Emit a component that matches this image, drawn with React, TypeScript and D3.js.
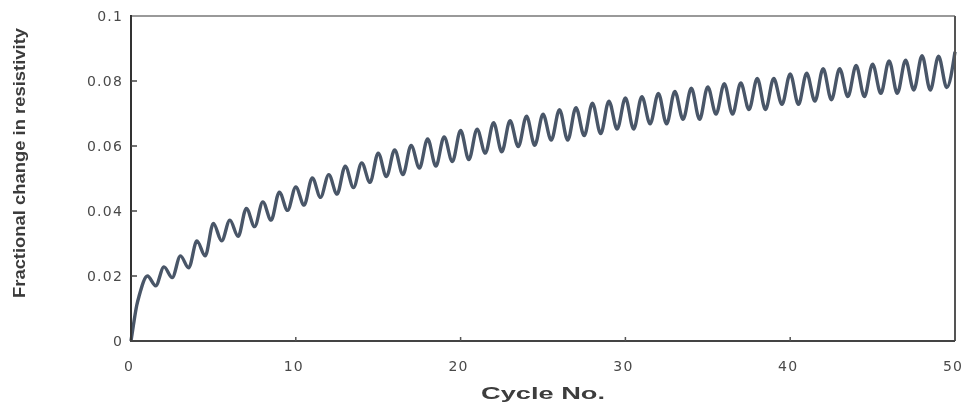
import React, { useRef, useEffect } from 'react';
import * as d3 from 'd3';

// values: peak of each cycle (at cycle n) and the dip before it (at n - 0.5)
const startCycles = [0, 0.15, 0.35];
const startValues = [0, 0.005, 0.011];
const peakValues = [
  0.0200, 0.0228, 0.0262, 0.0308, 0.0362, 0.0372, 0.0408, 0.0428, 0.0458, 0.0474,
  0.0502, 0.0512, 0.0538, 0.0548, 0.0578, 0.0588, 0.0602, 0.0622, 0.0628, 0.0648,
  0.0652, 0.0672, 0.0678, 0.0692, 0.0698, 0.0712, 0.0718, 0.0732, 0.0738, 0.0748,
  0.0752, 0.0762, 0.0768, 0.0778, 0.0782, 0.0792, 0.0794, 0.0808, 0.0808, 0.0822,
  0.0824, 0.0838, 0.0838, 0.0848, 0.0852, 0.0862, 0.0864, 0.0878, 0.0876, 0.0890,
];
const troughValues = [
  0.0140, 0.0170, 0.0195, 0.0225, 0.0262, 0.0308, 0.0322, 0.0352, 0.0372, 0.0402,
  0.0418, 0.0442, 0.0452, 0.0472, 0.0488, 0.0506, 0.0512, 0.0532, 0.0538, 0.0552,
  0.0558, 0.0578, 0.0582, 0.0598, 0.0602, 0.0618, 0.0618, 0.0632, 0.0638, 0.0652,
  0.0652, 0.0668, 0.0668, 0.0682, 0.0682, 0.0698, 0.0698, 0.0712, 0.0712, 0.0728,
  0.0728, 0.0738, 0.0742, 0.0752, 0.0752, 0.0762, 0.0762, 0.0772, 0.0772, 0.0780,
];

const xTicks = [0, 10, 20, 30, 40, 50];
const yTicks = [0, 0.02, 0.04, 0.06, 0.08, 0.1];
const yTickLabels = ['0', '0.02', '0.04', '0.06', '0.08', '0.1'];

const W = 971;
const H = 409;

const App = () => {
  const svgRef = useRef<SVGSVGElement | null>(null);

  useEffect(() => {
    const svg = d3.select(svgRef.current);
    svg.selectAll('*').remove();

    const x = d3.scaleLinear().domain([0, 50]).range([131, 955]);
    const y = d3.scaleLinear().domain([0, 0.1]).range([341, 16]);

    const defs = svg.append('defs');
    defs.append('filter').attr('id', 'scan')
      .append('feGaussianBlur').attr('stdDeviation', 0.6);

    const pts: [number, number][] = startCycles.map((c, i) => [c, startValues[i]]);
    peakValues.forEach((p, i) => {
      pts.push([i + 0.5, troughValues[i]]);
      pts.push([i + 1, p]);
    });

    const g = svg.append('g');

    const line = d3.line<[number, number]>()
      .x(d => x(d[0])).y(d => y(d[1]))
      .curve(d3.curveMonotoneX);

    g.append('path').datum(pts)
      .attr('fill', 'none').attr('stroke', '#4a5668').attr('stroke-width', 3.4)
      .attr('stroke-linejoin', 'round').attr('filter', 'url(#scan)')
      .attr('d', line);

    // frame
    g.append('line').attr('x1', x(0)).attr('x2', x(50)).attr('y1', y(0.1)).attr('y2', y(0.1))
      .attr('stroke', '#777').attr('stroke-width', 1.5);
    g.append('line').attr('x1', x(50)).attr('x2', x(50)).attr('y1', y(0.1)).attr('y2', y(0))
      .attr('stroke', '#555').attr('stroke-width', 2);
    g.append('line').attr('x1', x(0)).attr('x2', x(0)).attr('y1', y(0.1) - 1).attr('y2', y(0))
      .attr('stroke', '#333').attr('stroke-width', 2);
    g.append('line').attr('x1', x(0) - 1).attr('x2', x(50)).attr('y1', y(0)).attr('y2', y(0))
      .attr('stroke', '#444').attr('stroke-width', 2);

    // ticks (inward)
    g.selectAll('.yt').data(yTicks.slice(1, -1)).enter().append('line')
      .attr('x1', x(0)).attr('x2', x(0) + 6).attr('y1', d => y(d)).attr('y2', d => y(d))
      .attr('stroke', '#444').attr('stroke-width', 1.5);
    g.selectAll('.xt').data(xTicks.slice(1, -1)).enter().append('line')
      .attr('x1', d => x(d)).attr('x2', d => x(d)).attr('y1', y(0)).attr('y2', y(0) - 4)
      .attr('stroke', '#555').attr('stroke-width', 1.5);

    const labelFont = '"DejaVu Sans", sans-serif';

    g.selectAll('.yl').data(yTicks).enter().append('text')
      .attr('x', 123).attr('y', d => y(d)).attr('dy', '0.35em')
      .attr('text-anchor', 'end').attr('font-family', labelFont).attr('font-size', 14)
      .attr('letter-spacing', 1.2).attr('fill', '#4a4a4a').attr('filter', 'url(#scan)')
      .text((d, i) => yTickLabels[i]);

    g.selectAll('.xl').data(xTicks).enter().append('text')
      .attr('x', d => x(d) - 2).attr('y', 371)
      .attr('text-anchor', 'middle').attr('font-family', labelFont).attr('font-size', 14)
      .attr('letter-spacing', 1.2).attr('fill', '#4a4a4a').attr('filter', 'url(#scan)')
      .text(d => String(d));

    g.append('text')
      .attr('x', 543).attr('y', 399).attr('text-anchor', 'middle')
      .attr('font-family', '"Liberation Sans", Arial, sans-serif').attr('font-weight', 'bold')
      .attr('font-size', 16).attr('fill', '#3c3c3c')
      .attr('textLength', 124).attr('lengthAdjust', 'spacingAndGlyphs')
      .attr('filter', 'url(#scan)')
      .text('Cycle No.');

    g.append('text')
      .attr('transform', `translate(25,163) rotate(-90)`).attr('text-anchor', 'middle')
      .attr('font-family', '"Liberation Sans", Arial, sans-serif').attr('font-weight', 'bold')
      .attr('font-size', 17).attr('fill', '#3a3a3a')
      .attr('textLength', 270).attr('lengthAdjust', 'spacingAndGlyphs')
      .attr('filter', 'url(#scan)')
      .text('Fractional change in resistivity');
  }, []);

  return (
    <svg
      ref={svgRef}
      width={W}
      height={H}
      style={{ position: 'absolute', left: 0, top: 0, background: '#fff' }}
    />
  );
};

export default App;
